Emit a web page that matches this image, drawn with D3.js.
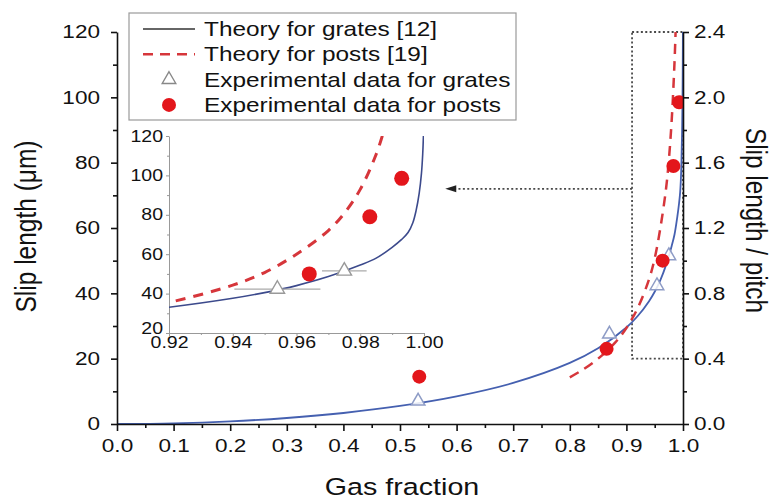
<!DOCTYPE html>
<html>
<head>
<meta charset="utf-8">
<script src="https://cdn.jsdelivr.net/npm/d3@7"></script>
<style>
  body { margin: 0; background: #fff; }
  svg { display: block; }
  text { font-family: "Liberation Sans", Arial, Helvetica, sans-serif; fill: #111; }
</style>
</head>
<body>
<svg id="chart" width="772" height="500"></svg>
<script>
// ---- data -------------------------------------------------------------
// Theory for grates: slip length (µm) vs gas fraction
const grateTheoryPhi  = [0, 0.1, 0.2, 0.3, 0.4, 0.5, 0.6, 0.7, 0.8, 0.85, 0.9, 0.92, 0.94, 0.95, 0.96, 0.97, 0.98, 0.985, 0.99, 0.993, 0.995, 0.9965, 0.9975, 0.9985, 0.9992, 0.9996, 0.9999];
const grateTheorySlip = [0, 0.2, 0.8, 1.84, 3.37, 5.52, 8.46, 12.57, 18.69, 23.16, 29.53, 33.06, 37.61, 40.5, 44.06, 48.63, 54.5, 58, 63.5, 67.5, 71, 76, 82, 91, 101, 111, 124];

// Theory for posts
const postTheoryPhi  = [0.8, 0.82, 0.85, 0.88, 0.9, 0.92, 0.94, 0.95, 0.96, 0.97, 0.975, 0.98, 0.985, 0.987];
const postTheorySlip = [14.3, 16.3, 20.0, 24.9, 29.4, 35.5, 44.3, 50.7, 60.0, 72.0, 80.8, 92.9, 110.7, 120.5];

// Experimental data for grates (with horizontal error in gas fraction)
const grateExpPhi  = [0.532, 0.87, 0.954, 0.975];
const grateExpSlip = [7, 27.5, 42.3, 51.5];
const grateExpErr  = [0, 0, 0.0135, 0.007];

// Experimental data for posts
const postExpPhi  = [0.534, 0.865, 0.964, 0.983, 0.993];
const postExpSlip = [14.5, 23, 50, 79, 98.5];

// Tick values
const xTicks       = [0, 0.1, 0.2, 0.3, 0.4, 0.5, 0.6, 0.7, 0.8, 0.9, 1.0];
const xMinorTicks  = [0.05, 0.15, 0.25, 0.35, 0.45, 0.55, 0.65, 0.75, 0.85, 0.95];
const yTicks       = [0, 20, 40, 60, 80, 100, 120];
const yMinorTicks  = [10, 30, 50, 70, 90, 110];
const rTicks       = [0, 0.4, 0.8, 1.2, 1.6, 2.0, 2.4];
const rMinorTicks  = [0.2, 0.6, 1.0, 1.4, 1.8, 2.2];
const insetXTicks  = [0.92, 0.94, 0.96, 0.98, 1.00];
const insetXMinor  = [0.93, 0.95, 0.97, 0.99];
const insetYTicks  = [20, 40, 60, 80, 100, 120];
const insetYMinor  = [30, 50, 70, 90, 110];

const legendLabels = ["Theory for grates [12]", "Theory for posts [19]", "Experimental data for grates", "Experimental data for posts"];

// ---- layout -----------------------------------------------------------
const SX = 1.22;              // horizontal stretch applied to lettering
const C_GRATE = "#4560b0";
const C_GRATE_IN = "#3c4a8c";
const C_POST = "#d6363b";
const C_DOT = "#e3161b";
const C_TRI = "#8e9cc6";

const svg = d3.select("#chart");

const x = d3.scaleLinear().domain([0, 1]).range([117, 683]);
const y = d3.scaleLinear().domain([0, 120]).range([424, 32]);
const yR = d3.scaleLinear().domain([0, 2.4]).range([424, 32]);

const xi = d3.scaleLinear().domain([0.92, 1.0]).range([169, 424]);
const yi = d3.scaleLinear().domain([20, 120]).range([333, 136]);

const grateTheory = grateTheoryPhi.map((p, i) => ({ p, s: grateTheorySlip[i] }));
const postTheory  = postTheoryPhi.map((p, i) => ({ p, s: postTheorySlip[i] }));
const grateExp    = grateExpPhi.map((p, i) => ({ p, s: grateExpSlip[i], e: grateExpErr[i] }));
const postExp     = postExpPhi.map((p, i) => ({ p, s: postExpSlip[i] }));

const defs = svg.append("defs");
defs.append("clipPath").attr("id", "clipMain").append("rect")
  .attr("x", x(0)).attr("y", y(120)).attr("width", x(1) - x(0)).attr("height", y(0) - y(120));
defs.append("clipPath").attr("id", "clipInset").append("rect")
  .attr("x", xi(0.92)).attr("y", yi(120)).attr("width", xi(1.0) - xi(0.92)).attr("height", yi(20) - yi(120));

function stretchTicks(g) {
  g.selectAll(".tick text").each(function () {
    const t = d3.select(this);
    const tx = +(t.attr("x") || 0);
    t.attr("x", tx / SX).attr("transform", `scale(${SX},1)`);
  });
}

function label(parent, str, px, py, size, anchor, rot) {
  return parent.append("text")
    .attr("transform", `translate(${px},${py}) scale(${SX},1)` + (rot ? ` rotate(${rot})` : ""))
    .attr("font-size", size)
    .attr("text-anchor", anchor || "start")
    .text(str);
}

function styleAxis(g, color, width) {
  g.selectAll("path.domain").attr("stroke", color).attr("stroke-width", width);
  g.selectAll(".tick line").attr("stroke", color).attr("stroke-width", width);
  g.selectAll(".tick text").attr("fill", "#111");
}

// ---- zoom box and arrow (behind the axes) -----------------------------
const box = { p0: 0.91, p1: 1.0, s0: 20, s1: 120 };
svg.append("rect")
  .attr("x", x(box.p0)).attr("y", y(box.s1))
  .attr("width", x(box.p1) - x(box.p0)).attr("height", y(box.s0) - y(box.s1))
  .attr("fill", "none").attr("stroke", "#4a4a4a").attr("stroke-width", 1.8)
  .attr("stroke-dasharray", "2,2.4");

const arrow = { s: 72, from: 0.91, to: 0.58 };
svg.append("line")
  .attr("x1", x(arrow.from)).attr("x2", x(arrow.to) + 9)
  .attr("y1", y(arrow.s)).attr("y2", y(arrow.s))
  .attr("stroke", "#4a4a4a").attr("stroke-width", 1.8).attr("stroke-dasharray", "2,2.4");
svg.append("path")
  .attr("d", `M${x(arrow.to)},${y(arrow.s)} l11,-3.5 l0,7 z`)
  .attr("fill", "#222");

// ---- main curves ------------------------------------------------------
const smooth = d3.curveCatmullRom.alpha(0.5);
const lineMain = d3.line().x(d => x(d.p)).y(d => y(d.s)).curve(smooth);
const gMain = svg.append("g").attr("clip-path", "url(#clipMain)");

gMain.append("path").datum(grateTheory)
  .attr("d", lineMain).attr("fill", "none")
  .attr("stroke", C_GRATE).attr("stroke-width", 1.8);

gMain.append("path").datum(postTheory)
  .attr("d", lineMain).attr("fill", "none")
  .attr("stroke", C_POST).attr("stroke-width", 2.5).attr("stroke-dasharray", "10,7");

const triMain = d3.symbol().type(d3.symbolTriangle).size(80);
const triInset = d3.symbol().type(d3.symbolTriangle).size(90);

gMain.selectAll("path.tri").data(grateExp).join("path")
  .attr("class", "tri")
  .attr("transform", d => `translate(${x(d.p)},${y(d.s)})`)
  .attr("d", triMain).attr("fill", "#fff").attr("fill-opacity", 0.85)
  .attr("stroke", C_TRI).attr("stroke-width", 1.5);

gMain.selectAll("circle.dot").data(postExp).join("circle")
  .attr("class", "dot")
  .attr("cx", d => x(d.p)).attr("cy", d => y(d.s)).attr("r", 7)
  .attr("fill", C_DOT);

// ---- main axes --------------------------------------------------------
const gx = svg.append("g").attr("transform", `translate(0,${y(0)})`)
  .call(d3.axisBottom(x).tickValues(xTicks).tickFormat(d3.format(".1f"))
    .tickSize(7).tickSizeOuter(0).tickPadding(8));
gx.attr("font-size", 18.5).attr("font-family", null);
styleAxis(gx, "#111", 1.6); stretchTicks(gx);

const gxm = svg.append("g").attr("transform", `translate(0,${y(0)})`)
  .call(d3.axisBottom(x).tickValues(xMinorTicks).tickFormat("").tickSize(4).tickSizeOuter(0));
gxm.select("path.domain").remove(); styleAxis(gxm, "#111", 1.6);

const gy = svg.append("g").attr("transform", `translate(${x(0)},0)`)
  .call(d3.axisLeft(y).tickValues(yTicks).tickFormat(d3.format("d"))
    .tickSize(6).tickSizeOuter(0).tickPadding(11));
gy.attr("font-size", 18.5).attr("font-family", null);
styleAxis(gy, "#111", 1.6); stretchTicks(gy);

const gym = svg.append("g").attr("transform", `translate(${x(0)},0)`)
  .call(d3.axisLeft(y).tickValues(yMinorTicks).tickFormat("").tickSize(4).tickSizeOuter(0));
gym.select("path.domain").remove(); styleAxis(gym, "#111", 1.6);

const gr = svg.append("g").attr("transform", `translate(${x(1)},0)`)
  .call(d3.axisRight(yR).tickValues(rTicks).tickFormat(d3.format(".1f"))
    .tickSize(6).tickSizeOuter(0).tickPadding(5));
gr.attr("font-size", 18.5).attr("font-family", null);
styleAxis(gr, "#111", 1.6); stretchTicks(gr);

const grm = svg.append("g").attr("transform", `translate(${x(1)},0)`)
  .call(d3.axisRight(yR).tickValues(rMinorTicks).tickFormat("").tickSize(4).tickSizeOuter(0));
grm.select("path.domain").remove(); styleAxis(grm, "#111", 1.6);

// axis titles
label(svg, "Gas fraction", 402, 495, 23.5, "middle");
label(svg, "Slip length (\u03bcm)", 36, 226.5, 24.5, "middle", -90);
label(svg, "Slip length / pitch", 746, 220.5, 24.3, "middle", 90);

// ---- legend -----------------------------------------------------------
const lg = svg.append("g");
lg.append("rect").attr("x", 129).attr("y", 13).attr("width", 387).attr("height", 107)
  .attr("fill", "#fff").attr("stroke", "#9a9a9a").attr("stroke-width", 1.2);
const rowY = i => 29 + i * 25.3;
lg.append("line").attr("x1", 143).attr("x2", 195).attr("y1", rowY(0)).attr("y2", rowY(0))
  .attr("stroke", "#333").attr("stroke-width", 1.6);
lg.append("line").attr("x1", 143).attr("x2", 195).attr("y1", rowY(1)).attr("y2", rowY(1))
  .attr("stroke", C_POST).attr("stroke-width", 2.5).attr("stroke-dasharray", "10,7");
lg.append("path").attr("transform", `translate(169,${rowY(2)})`).attr("d", triMain)
  .attr("fill", "#fff").attr("stroke", "#888").attr("stroke-width", 1.4);
lg.append("circle").attr("cx", 169).attr("cy", rowY(3)).attr("r", 7).attr("fill", C_DOT);
legendLabels.forEach((t, i) => {
  label(lg, t, 204, rowY(i) + 7, 20, "start");
});

// ---- inset ------------------------------------------------------------
const gi = svg.append("g");
const lineInset = d3.line().x(d => xi(d.p)).y(d => yi(d.s)).curve(smooth);

const gix = gi.append("g").attr("transform", `translate(0,${yi(20)})`)
  .call(d3.axisBottom(xi).tickValues(insetXTicks).tickFormat(d3.format(".2f"))
    .tickSize(3).tickSizeOuter(0).tickPadding(1));
gix.attr("font-size", 16).attr("font-family", null);
styleAxis(gix, "#999", 1); stretchTicks(gix);
const gixm = gi.append("g").attr("transform", `translate(0,${yi(20)})`)
  .call(d3.axisBottom(xi).tickValues(insetXMinor).tickFormat("").tickSize(2).tickSizeOuter(0));
gixm.select("path.domain").remove(); styleAxis(gixm, "#999", 1);

const giy = gi.append("g").attr("transform", `translate(${xi(0.92)},0)`)
  .call(d3.axisLeft(yi).tickValues(insetYTicks).tickFormat(d3.format("d"))
    .tickSize(3).tickSizeOuter(0).tickPadding(3));
giy.attr("font-size", 16).attr("font-family", null);
styleAxis(giy, "#999", 1); stretchTicks(giy);
// lift the lowest label slightly so it clears the x labels
giy.selectAll(".tick text").filter(d => d === 20).attr("dy", "0.05em");
const giym = gi.append("g").attr("transform", `translate(${xi(0.92)},0)`)
  .call(d3.axisLeft(yi).tickValues(insetYMinor).tickFormat("").tickSize(2).tickSizeOuter(0));
giym.select("path.domain").remove(); styleAxis(giym, "#999", 1);

const gic = gi.append("g").attr("clip-path", "url(#clipInset)");
gic.append("path").datum(grateTheory.filter(d => d.p >= 0.9))
  .attr("d", lineInset).attr("fill", "none")
  .attr("stroke", C_GRATE_IN).attr("stroke-width", 1.6);
gic.append("path").datum(postTheory.filter(d => d.p >= 0.9))
  .attr("d", lineInset).attr("fill", "none")
  .attr("stroke", C_POST).attr("stroke-width", 3).attr("stroke-dasharray", "10,8");

const grateIn = grateExp.filter(d => d.p >= 0.92);
gic.selectAll("line.err").data(grateIn.filter(d => d.e > 0)).join("line")
  .attr("class", "err")
  .attr("x1", d => xi(d.p - d.e)).attr("x2", d => xi(d.p + d.e))
  .attr("y1", d => yi(d.s)).attr("y2", d => yi(d.s))
  .attr("stroke", "#aaa").attr("stroke-width", 1.3);
gic.selectAll("circle.dot").data(postExp.filter(d => d.p >= 0.92)).join("circle")
  .attr("class", "dot")
  .attr("cx", d => xi(d.p)).attr("cy", d => yi(d.s)).attr("r", 7.5)
  .attr("fill", C_DOT);
gic.selectAll("path.tri").data(grateIn).join("path")
  .attr("class", "tri")
  .attr("transform", d => `translate(${xi(d.p)},${yi(d.s)})`)
  .attr("d", triInset).attr("fill", "#fff")
  .attr("stroke", "#999").attr("stroke-width", 1.4);
</script>
</body>
</html>
